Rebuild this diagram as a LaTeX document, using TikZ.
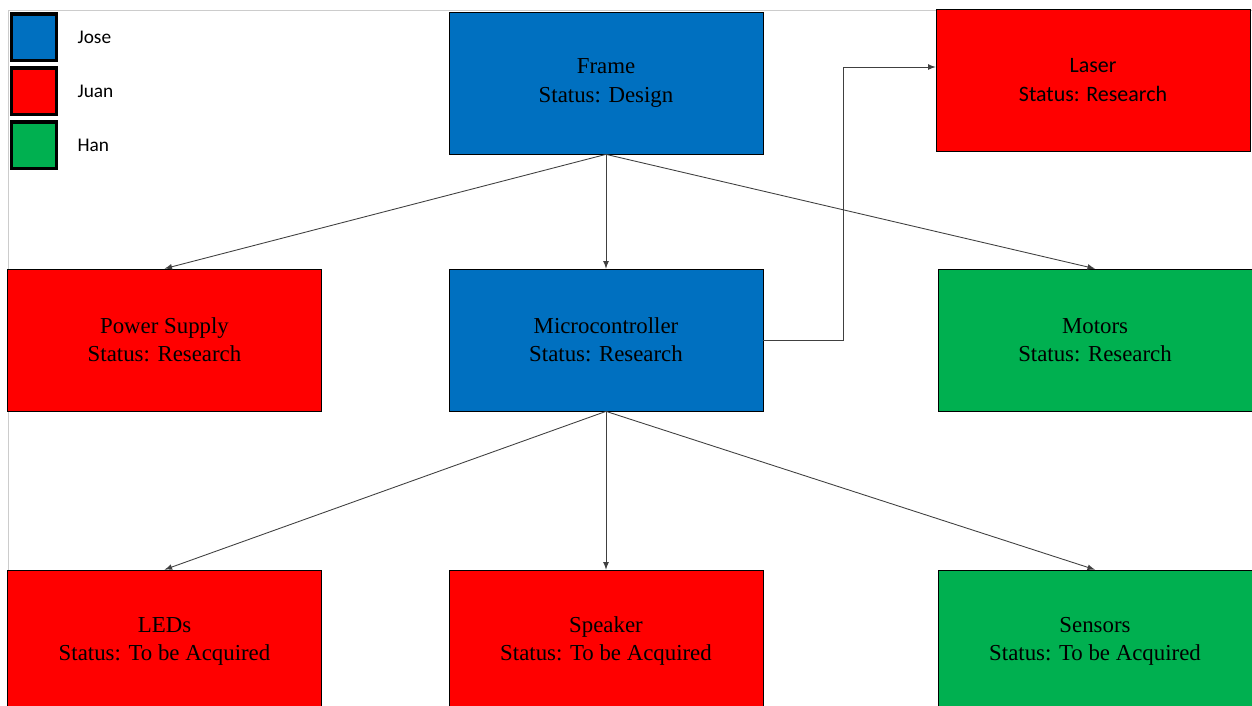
\documentclass[tikz,border=0pt]{standalone}
\usepackage{fontspec}
\setmainfont{Liberation Serif}
\newfontfamily\calibri{Carlito}
\usepackage{xcolor}
\usetikzlibrary{shapes,arrows,positioning}
\definecolor{joseblue}{RGB}{0,112,192}
\definecolor{juanred}{RGB}{255,0,0}
\definecolor{hangreen}{RGB}{0,176,80}
\tikzstyle{block} = [rectangle, draw, align=center, inner sep=0pt,
    minimum width=6.28cm, minimum height=2.84cm, font=\fontsize{13}{16}\selectfont]
\tikzstyle{jose} = [block, fill=joseblue]
\tikzstyle{juan} = [block, fill=juanred]
\tikzstyle{han} = [block, fill=hangreen]
\tikzstyle{key} = [rectangle, draw, line width=2pt,
    minimum width=0.9cm, minimum height=0.93cm, inner sep=0pt]
\tikzstyle{keylabel} = [inner sep=0pt, font=\calibri\fontsize{11}{13}\selectfont]
\tikzstyle{arrow} = [draw, -latex, line width=0.5pt, black!75]

\begin{document}
\begin{tikzpicture}[node distance = 2cm]
			\useasboundingbox (0,0) rectangle (25.04,-14.1);
			\clip (0,0) rectangle (25.04,-14.1);
			\draw [gray!40] (0.16,-14.1) -- (0.16,-0.2) -- (25.04,-0.2);
			% Legend
			\node [key, fill=joseblue] at (0.68,-0.74) (josekey) {};
			\node [key, fill=juanred, below of=josekey, node distance=1.08cm] (juankey) {};
			\node [key, fill=hangreen, below of=juankey, node distance=1.08cm] (hankey) {};
			\node [keylabel, right=0.38cm of josekey] {Jose};
			\node [keylabel, right=0.38cm of juankey] {Juan};
			\node [keylabel, right=0.38cm of hankey] {Han};
			% Place nodes
			\node [jose] at (12.12,-1.66) (frame) {Frame\\Status: Design};
			\node [juan, right of=frame, node distance=9.74cm, yshift=0.06cm, font=\calibri\fontsize{12.5}{16}\selectfont] (laser) {Laser\\Status: Research};
			\node [jose, below of=frame, node distance=5.14cm] (micro) {Microcontroller\\Status: Research};
			\node [juan, left of=micro, node distance=8.83cm] (power) {Power Supply\\Status: Research};
			\node [han, right of=micro, node distance=9.78cm] (motors) {Motors\\Status: Research};
			\node [juan, below of=power, node distance=6.02cm] (leds) {LEDs\\Status: To be Acquired};
			\node [juan, below of=micro, node distance=6.02cm] (speaker) {Speaker\\Status: To be Acquired};
			\node [han, below of=motors, node distance=6.02cm] (sensors) {Sensors\\Status: To be Acquired};
			%
			\path [arrow] (frame.south) -- (power.north);
			\path [arrow] (frame.south) -- (micro.north);
			\path [arrow] (frame.south) -- (motors.north);
			\path [arrow] (micro.east) -- +(1.6cm,0) |- ([yshift=0.26cm]laser.west);
			\path [arrow] (micro.south) -- (leds.north);
			\path [arrow] (micro.south) -- (speaker.north);
			\path [arrow] (micro.south) -- (sensors.north);
	\end{tikzpicture}
\end{document}
